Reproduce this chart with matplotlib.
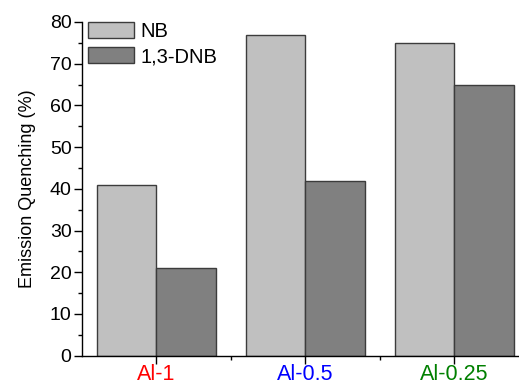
import numpy as np
import matplotlib
matplotlib.use("Agg")
import matplotlib.pyplot as plt
from matplotlib.ticker import MultipleLocator, FixedLocator

plt.rcParams['font.family'] = ['Liberation Sans', 'DejaVu Sans']

## Data
samples = ['Al-1', 'Al-0.5', 'Al-0.25']
label_colors = ['#ff0000', '#0000ff', '#008000']
nb = [41, 77, 75]        # NB quenching (%)
dnb = [21, 42, 65]       # 1,3-DNB quenching (%)

x = np.arange(1, len(samples) + 1)
w = 0.4

fig = plt.figure(figsize=(5.19, 3.84), dpi=100)
ax = fig.add_axes([82/519, 1 - 355.7/384, 446.5/519, 333.7/384])

ax.bar(x - w/2, nb, w, color='#c0c0c0', edgecolor='#3c3c3c', linewidth=1, label='NB')
ax.bar(x + w/2, dnb, w, color='#808080', edgecolor='#3c3c3c', linewidth=1, label='1,3-DNB')

ax.set_xlim(0.5, 3.5)
ax.set_ylim(0, 80)
ax.yaxis.set_major_locator(MultipleLocator(10))
ax.yaxis.set_minor_locator(MultipleLocator(5))
ax.set_xticks(x)
ax.set_xticklabels(samples, fontsize=15.5)
for lab, c in zip(ax.get_xticklabels(), label_colors):
    lab.set_color(c)
ax.xaxis.set_minor_locator(FixedLocator([1.5, 2.5]))
ax.tick_params(axis='y', labelsize=14, pad=2)
ax.tick_params(axis='x', which='major', pad=0.5)
ax.tick_params(which='major', length=5.5, width=1, direction='out')
ax.tick_params(which='minor', length=3, width=1, direction='out')

for s in ['top', 'right']:
    ax.spines[s].set_visible(False)
for s in ['left', 'bottom']:
    ax.spines[s].set_linewidth(1)

ax.set_ylabel('Emission Quenching (%)', fontsize=13, labelpad=10)

fig.legend(loc='upper left', bbox_to_anchor=(88/519, 1 - 22/384), frameon=False,
           fontsize=14.5, handlelength=2.3, handleheight=0.8, handletextpad=0.3,
           labelspacing=0.3, borderpad=0, borderaxespad=0)

fig.savefig('out.png', dpi=100)
